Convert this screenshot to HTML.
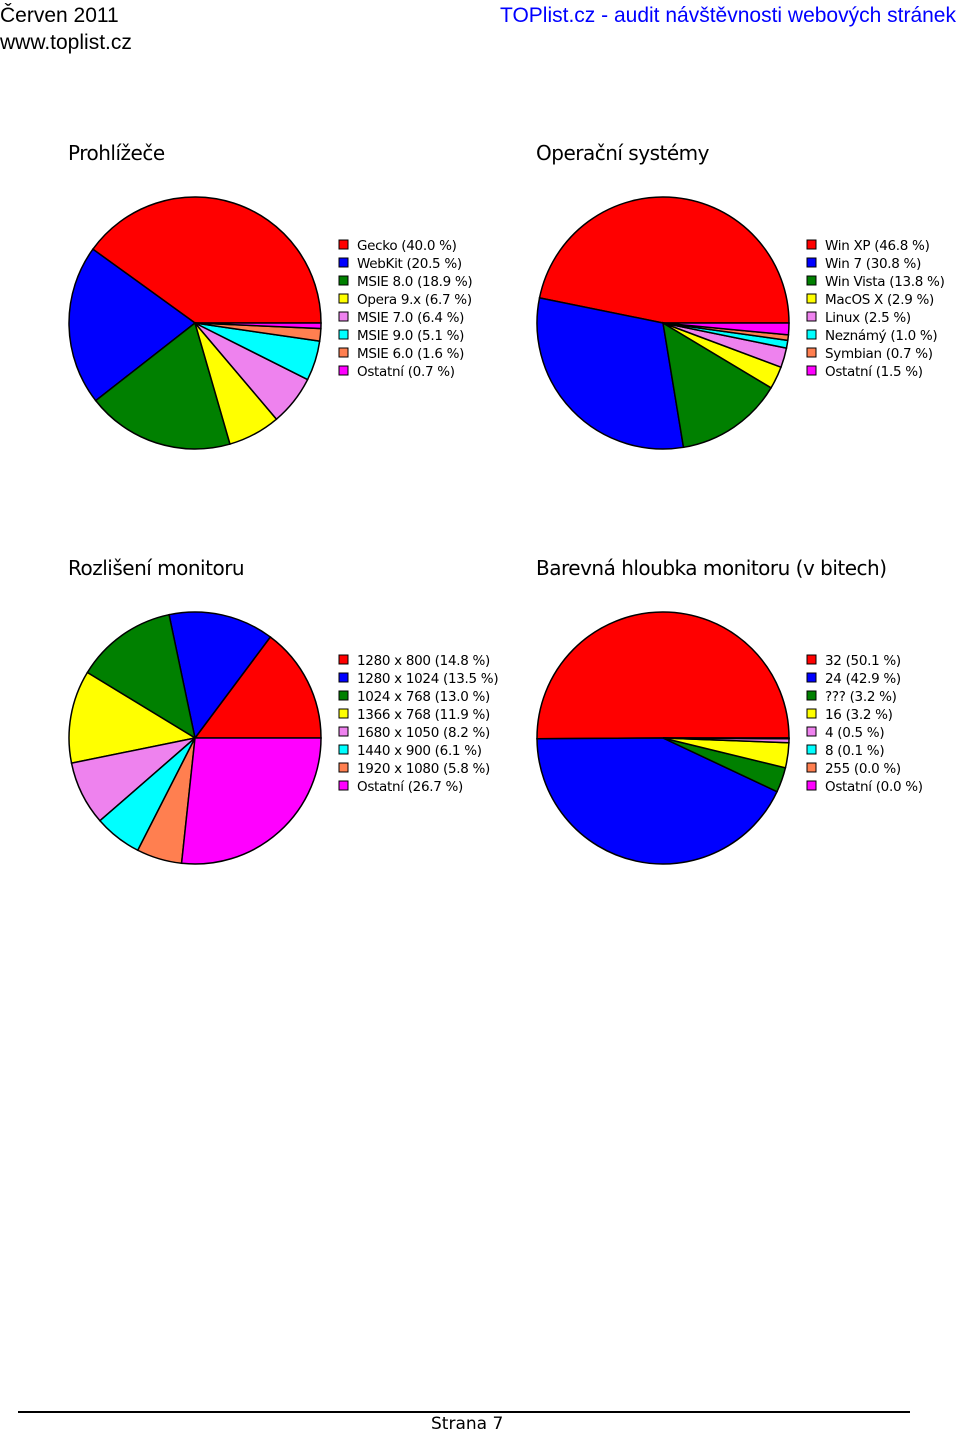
<!DOCTYPE html>
<html><head><meta charset="utf-8">
<style>
body{margin:0;width:960px;height:1434px;background:#fff;position:relative;font-family:"DejaVu Sans","Liberation Sans",sans-serif;overflow:hidden}
.h{position:absolute;font-family:"Liberation Sans",sans-serif;font-size:21px;line-height:24px}
.t{position:absolute;font-size:20px;letter-spacing:-0.5px;font-family:"DejaVu Sans",sans-serif}
svg{position:absolute;left:0;top:0}
</style></head><body>
<div class="h" style="left:0;top:4px">Červen 2011</div>
<div class="h" style="left:0;top:31px">www.toplist.cz</div>
<div class="h" style="right:4px;top:4px;color:#0000ff">TOPlist.cz - audit návštěvnosti webových stránek</div>
<div class="t" style="left:68px;top:141px">Prohlížeče</div>
<div class="t" style="left:536px;top:141px">Operační systémy</div>
<div class="t" style="left:68px;top:556px">Rozlišení monitoru</div>
<div class="t" style="left:536px;top:556px">Barevná hloubka monitoru (v bitech)</div>
<div style="position:absolute;left:18px;top:1411px;width:892px;height:2px;background:#000"></div>
<div style="position:absolute;left:431px;top:1414px;font-size:17px;font-family:'DejaVu Sans',sans-serif">Strana 7</div>
<svg id="s" width="960" height="1434"></svg>
<script>
const colors=["#ff0000","#0000ff","#008000","#ffff00","#ee82ee","#00ffff","#ff7f50","#ff00ff"];
const browserLabels=["Gecko","WebKit","MSIE 8.0","Opera 9.x","MSIE 7.0","MSIE 9.0","MSIE 6.0","Ostatní"];
const browserValues=[40.0,20.5,18.9,6.7,6.4,5.1,1.6,0.7];
const osLabels=["Win XP","Win 7","Win Vista","MacOS X","Linux","Neznámý","Symbian","Ostatní"];
const osValues=[46.8,30.8,13.8,2.9,2.5,1.0,0.7,1.5];
const resLabels=["1280 x 800","1280 x 1024","1024 x 768","1366 x 768","1680 x 1050","1440 x 900","1920 x 1080","Ostatní"];
const resValues=[14.8,13.5,13.0,11.9,8.2,6.1,5.8,26.7];
const depthLabels=["32","24","???","16","4","8","255","Ostatní"];
const depthValues=[50.1,42.9,3.2,3.2,0.5,0.1,0.0,0.0];
const NS="http://www.w3.org/2000/svg";
const svg=document.getElementById('s');
function mk(t,a){const e=document.createElementNS(NS,t);for(const k in a)e.setAttribute(k,a[k]);svg.appendChild(e);return e;}
function pie(cx,cy,r,labels,values,name){
  const tot=values.reduce((a,b)=>a+b,0);let a0=0;
  values.forEach((v,i)=>{
    if(v<=0)return;
    const a1=a0+v/tot*2*Math.PI;
    const x0=cx+r*Math.cos(a0),y0=cy-r*Math.sin(a0),x1=cx+r*Math.cos(a1),y1=cy-r*Math.sin(a1);
    const large=(a1-a0)>Math.PI?1:0;
    const p=mk('path',{d:`M${cx},${cy}L${x0},${y0}A${r},${r} 0 ${large} 0 ${x1},${y1}Z`,fill:colors[i],stroke:'#000','stroke-width':1.5});
    
    
    a0=a1;
  });
  labels.forEach((l,i)=>{
    const y=cy-77+i*18;
    const s=mk('rect',{x:cx+144,y:y-6,width:9,height:9,fill:colors[i],stroke:'#000','stroke-width':1});
    
    
    const t=mk('text',{x:cx+162,y:y+4,'font-size':13.5,'letter-spacing':-0.3,'font-family':'DejaVu Sans, sans-serif'});
    t.textContent=l+' ('+values[i].toFixed(1)+' %)';
    
    
  });
}
pie(195,323,126,browserLabels,browserValues,'browsers');
pie(663,323,126,osLabels,osValues,'os');
pie(195,738,126,resLabels,resValues,'resolution');
pie(663,738,126,depthLabels,depthValues,'color-depth');
</script>
</body></html>
